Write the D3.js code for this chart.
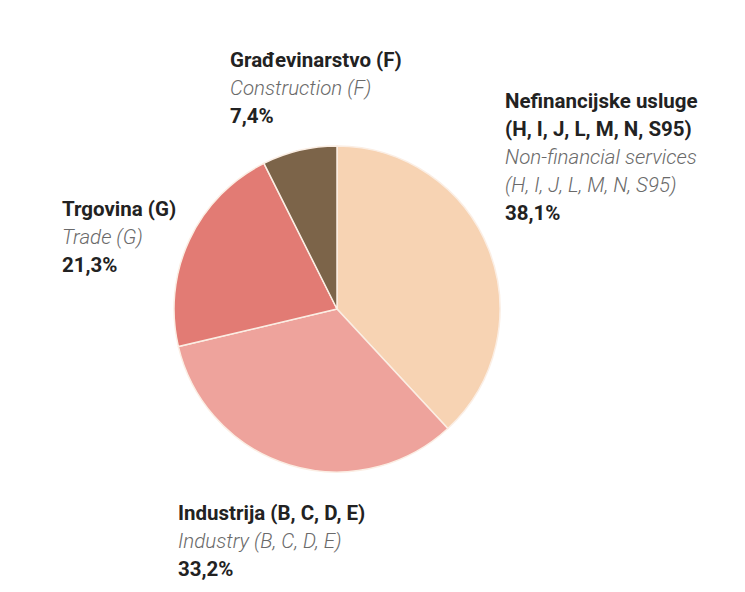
<!DOCTYPE html>
<html><head><meta charset="utf-8">
<script src="https://cdn.jsdelivr.net/npm/d3@7"></script>
<style>
body{margin:0;background:#fff;}
text{font-family:"Roboto","Liberation Sans",sans-serif;}
</style></head><body>
<svg id="c" width="745" height="592"></svg>
<script>
const categories = ["Nefinancijske usluge\n(H, I, J, L, M, N, S95)", "Industrija (B, C, D, E)", "Trgovina (G)", "Građevinarstvo (F)"];
const categoriesEn = ["Non-financial services\n(H, I, J, L, M, N, S95)", "Industry (B, C, D, E)", "Trade (G)", "Construction (F)"];
const values = [38.1, 33.2, 21.3, 7.4];
const colors = ["#f7d3b3", "#eea39c", "#e27b74", "#7c6449"];

const svg = d3.select("#c");
const cx = 337, cy = 309, r = 163;
const pie = d3.pie().sort(null).value(d => d);
const arc = d3.arc().innerRadius(0).outerRadius(r);
const g = svg.append("g").attr("transform", `translate(${cx},${cy})`);
g.selectAll("path").data(pie(values)).join("path")
  .attr("d", arc).attr("fill", (d,i) => colors[i])
  .attr("stroke", "#fbeee4").attr("stroke-width", 1.5);

const labelPos = [[505,108],[178,520],[62,216],[230,67]];
const lh = 28, fs = 20.5;
const fmt = v => d3.format(".1f")(v).replace(".", ",") + "%";
values.forEach((v,i) => {
  const [x,y] = labelPos[i];
  const t = svg.append("text").attr("x", x).attr("y", y);
  let k = 0;
  categories[i].split("\n").forEach(s => {
    t.append("tspan").attr("x", x).attr("dy", k++ ? lh : 0)
      .attr("font-weight", "bold").attr("font-size", fs).attr("fill", "#222").text(s);
  });
  categoriesEn[i].split("\n").forEach(s => {
    t.append("tspan").attr("x", x).attr("dy", lh)
      .attr("font-style", "italic").attr("font-weight", 300).attr("font-size", fs).attr("fill", "#6a6a6a").text(s);
  });
  t.append("tspan").attr("x", x).attr("dy", lh)
    .attr("font-weight", "bold").attr("font-size", fs).attr("fill", "#222").text(fmt(v));
});
</script></body></html>
